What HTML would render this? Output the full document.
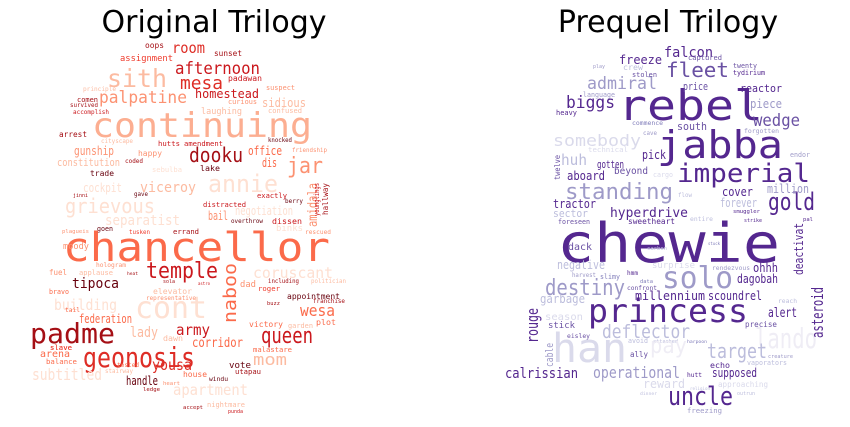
<!DOCTYPE html>
<html><head><meta charset="utf-8"><style>
html,body{margin:0;padding:0;background:#fff;}
svg{display:block;}
text{font-family:"DejaVu Sans Mono","Liberation Mono",monospace;}
.title{font-family:"DejaVu Sans","Liberation Sans",sans-serif;}
</style></head><body>
<svg id="c" width="850" height="427" viewBox="0 0 850 427" xmlns="http://www.w3.org/2000/svg">
<text class="title" x="214" y="32" font-size="30" text-anchor="middle" fill="#000">Original Trilogy</text>
<text class="title" x="668" y="32" font-size="30" text-anchor="middle" fill="#000">Prequel Trilogy</text>
<g id="left"></g>
<g id="right"></g>
</svg>
<script>
// [word, x1, x2, baseline, color, size(optional)]
const leftWords = [
["continuing",92,312,137,"#fcae91",34],["chancellor",63,330,261,"#fb6a4a",40],
["sith",107,167,87,"#fcbba1",25],["afternoon",175,260,74,"#cb181d",17],["mesa",180,223,89,"#de2d26",18],
["palpatine",99,187,103,"#fc9272",17],["homestead",195,259,98,"#cb181d",12],["room",172,205,53,"#de2d26",15],
["assignment",120,173,61,"#ef3b2c"],["sunset",214,242,56,"#a50f15"],["oops",145,164,48,"#a50f15"],["padawan",228,262,81,"#cb181d"],
["suspect",266,295,90,"#fc9272"],["sidious",262,306,107,"#fcbba1",12],["curious",228,257,104,"#fc9272"],["laughing",201,242,114,"#fcbba1"],
["confused",268,302,113,"#fcbba1"],["dooku",189,243,162,"#a50f15",20],["office",248,282,155,"#fb6a4a",12],["jar",287,323,173,"#fc9272",22],
["annie",208,278,192,"#fee0d2",24],["viceroy",140,196,192,"#fcbba1",14],["grievous",65,155,213,"#fee0d2",20],["separatist",105,180,225,"#fee0d2",14],
["cockpit",83,122,192,"#fee0d2",12],["gunship",74,114,155,"#fc9272",12],["constitution",57,120,166,"#fcbba1",11],["arrest",59,87,137,"#a50f15"],
["happy",138,162,156,"#fc9272"],["hutts",158,180,146,"#cb181d"],["amendment",184,223,146,"#cb181d"],["lake",200,220,171,"#67000d"],
["trade",90,114,176,"#67000d"],["dis",262,277,167,"#fb6a4a",12],["exactly",257,287,198,"#cb181d"],["distracted",203,246,207,"#cb181d"],
["negotiation",235,293,215,"#fee0d2",12],["bail",208,228,220,"#fc9272",12],["dissen",272,302,224,"#cb181d"],["overthrow",231,263,223,"#67000d"],
["principle",83,116,91,"#fcbba1"],["comen",77,98,102,"#a50f15"],["survived",70,98,107,"#a50f15"],["accomplish",73,109,114,"#cb181d"],
["cityscape",101,133,143,"#fcbba1"],["knocked",268,292,142,"#67000d"],["friendship",292,327,152,"#fc9272"],["sebulba",152,182,172,"#fee0d2"],
["coded",125,143,163,"#a50f15"],["gave",134,148,196,"#67000d"],["jinni",73,88,197,"#a50f15"],["berry",285,303,203,"#67000d"],
["temple",146,218,278,"#cb181d",22],["cont",135,207,318,"#fee0d2",30],["coruscant",253,333,278,"#fee0d2",15],["tipoca",72,119,288,"#67000d",14],
["fuel",49,67,275,"#fc9272"],["applause",79,113,275,"#fcbba1"],["hologram",96,126,267,"#fc9272"],["plagueis",62,89,233,"#fc9272"],["goen",97,113,231,"#67000d"],
["tusken",129,150,234,"#ef3b2c"],["errand",173,199,234,"#a50f15"],["binks",276,303,231,"#fee0d2"],["rescued",305,331,234,"#fc9272"],
["building",54,117,310,"#fee0d2",15],["federation",79,132,323,"#fb6a4a",12],["padme",30,115,343,"#a50f15",28],["geonosis",83,195,367,"#de2d26",28],
["army",176,210,335,"#cb181d",15],["lady",130,158,337,"#fcbba1",14],["dawn",163,183,341,"#fcbba1"],["corridor",192,243,347,"#fb6a4a",13],
["queen",261,313,343,"#cb181d",22],["wesa",300,335,316,"#fb6a4a",16],["plot",316,336,325,"#fb6a4a"],["victory",249,283,327,"#fb6a4a"],["garden",288,313,328,"#fcbba1"],
["appointment",287,340,299,"#67000d"],["franchise",313,345,303,"#a50f15"],["dad",240,256,287,"#fc9272"],["roger",258,280,291,"#ef3b2c"],["buzz",267,280,305,"#a50f15"],
["elevator",153,192,294,"#fcbba1"],["representative",146,196,300,"#fc9272"],["astro",198,210,285,"#cb181d"],["including",268,299,283,"#a50f15"],["politician",311,346,283,"#fcbba1"],
["mom",253,287,365,"#fcbba1",16],["malastare",253,292,352,"#fb6a4a"],["yousa",152,192,370,"#de2d26",15],["subtitled",32,102,380,"#fee0d2",16],
["balance",46,77,364,"#fb6a4a"],["slave",50,72,350,"#ef3b2c"],["tested",117,139,367,"#fb6a4a"],["stairway",105,133,373,"#fcbba1"],
["vote",229,251,368,"#67000d"],["utapau",235,261,374,"#a50f15"],["house",183,207,377,"#fb6a4a"],["windu",209,228,381,"#67000d"],
["handle",126,158,385,"#67000d",12],["heart",163,180,385,"#fc9272"],["ledge",143,160,391,"#a50f15"],["apartment",173,248,395,"#fee0d2",15],
["nightmare",207,245,407,"#fcbba1"],["accept",183,203,409,"#a50f15"],["punda",228,243,413,"#cb181d"],["heat",127,138,275,"#a50f15"],["sola",163,175,283,"#a50f15"],
["moody",63,89,249,"#fc9272"],["bravo",49,69,294,"#fb6a4a"],["tail",65,80,312,"#fb6a4a"],["arena",40,70,357,"#fb6a4a"],["slave",50,72,350,"#ef3b2c"]
];
// vertical words: [word, xRightBaseline, yTop, yBottom, color, size]
const leftVert = [["naboo",236,263,323,"#fb6a4a",18],["amidala",317,183,227,"#fc9272",13],["hallway",328,183,215,"#a50f15",8],["younglings",319,183,216,"#cb181d",7]];

const rightWords = [
["chewie",557,780,262,"#54278f",54],["rebel",618,763,120,"#54278f",42],["jabba",657,783,158,"#54278f",38],["imperial",677,810,182,"#54278f",26],
["standing",565,673,199,"#9e9ac8",22],["fleet",666,729,77,"#6a51a3",20],["falcon",664,713,57,"#54278f",14],["freeze",619,662,64,"#54278f",12],
["admiral",587,657,89,"#9e9ac8",17],["biggs",566,615,108,"#54278f",17],["somebody",553,641,146,"#dadaeb",16],["huh",561,587,165,"#bcbddc",15],
["gotten",597,624,168,"#54278f",11],["pick",642,666,159,"#54278f",12],["beyond",614,648,174,"#6a51a3"],["aboard",567,605,180,"#54278f",12],
["tractor",553,596,208,"#54278f",12],["sector",553,588,217,"#bcbddc",11],["foreseen",558,590,224,"#6a51a3"],["hyperdrive",610,688,217,"#54278f",13],
["sweetheart",628,675,224,"#54278f"],["entire",690,713,221,"#bcbddc"],["cover",722,753,196,"#54278f",12],["forever",720,757,207,"#bcbddc",12],
["gold",768,815,210,"#54278f",24],["million",767,809,193,"#9e9ac8",12],["wedge",753,800,126,"#6a51a3",17],["piece",750,782,108,"#9e9ac8",12],
["reactor",740,782,92,"#54278f",11],["price",683,708,90,"#6a51a3",11],["south",677,707,130,"#6a51a3",11],["crew",623,643,70,"#bcbddc"],
["stolen",632,657,77,"#6a51a3"],["captured",688,722,60,"#6a51a3"],["twenty",733,757,68,"#6a51a3"],["tydirium",733,765,75,"#54278f"],
["heavy",556,577,115,"#54278f"],["language",583,615,97,"#9e9ac8"],["play",593,605,68,"#9e9ac8"],["commence",632,663,125,"#807dba"],
["cave",643,657,135,"#9e9ac8"],["forgotten",744,779,133,"#9e9ac8"],["endor",790,810,157,"#9e9ac8"],["cargo",653,673,177,"#dadaeb"],
["flow",678,692,197,"#bcbddc"],["technical",588,628,152,"#dadaeb"],["smuggler",733,760,213,"#54278f"],["strike",744,762,222,"#54278f"],["pal",803,813,221,"#54278f"],
["solo",662,733,288,"#9e9ac8",30],["princess",588,748,322,"#54278f",32],["han",552,627,362,"#dadaeb",40],["lando",755,817,348,"#efedf5",28],
["destiny",545,625,295,"#9e9ac8",22],["deflector",602,690,338,"#bcbddc",19],["target",707,767,358,"#bcbddc",20],["operational",593,680,378,"#9e9ac8",16],
["calrissian",505,578,378,"#54278f",14],["uncle",668,733,405,"#54278f",26],["echo",710,730,368,"#54278f"],["supposed",712,757,377,"#54278f",12],
["hutt",687,702,377,"#54278f"],["alert",768,797,317,"#54278f",13],["precise",745,777,327,"#6a51a3"],["reach",778,797,303,"#bcbddc"],
["dagobah",737,778,283,"#54278f",12],["ohhh",753,778,272,"#54278f",12],["scoundrel",708,762,300,"#54278f",12],["millennium",635,705,300,"#54278f",12],
["hmm",627,638,275,"#54278f"],["confront",627,657,290,"#6a51a3"],["data",640,653,283,"#807dba"],["surprise",652,695,268,"#dadaeb"],
["negative",557,605,269,"#bcbddc",12],["dack",568,592,250,"#6a51a3"],["garbage",540,585,303,"#bcbddc",12],["season",545,583,320,"#dadaeb"],
["stick",548,575,328,"#6a51a3"],["eisley",567,590,338,"#6a51a3"],["ally",630,648,357,"#6a51a3"],["avoid",628,648,343,"#bcbddc"],["attached",653,678,343,"#bcbddc"],
["harpoon",687,707,343,"#807dba"],["freezing",687,722,413,"#9e9ac8"],["reward",643,685,388,"#dadaeb",12],["approaching",718,768,387,"#dadaeb"],
["vaporators",747,787,365,"#bcbddc"],["creature",768,793,358,"#9e9ac8"],["pay",650,687,353,"#efedf5",22],["harvest",572,596,277,"#9e9ac8"],
["slimy",600,620,279,"#807dba"],["rendezvous",712,750,270,"#9e9ac8"],["stuck",708,720,245,"#807dba"],["carbon",647,667,250,"#bcbddc"],
["religion",690,710,390,"#bcbddc"],["dinner",640,657,395,"#bcbddc"],["outrun",737,755,395,"#bcbddc"]
];
const rightVert = [["asteroid",823,287,338,"#54278f",16],["rouge",538,308,343,"#54278f",16],["cable",553,343,367,"#9e9ac8",11],["deactivat",803,223,275,"#54278f",12],["twelve",560,155,180,"#6a51a3",8]];

const NS = "http://www.w3.org/2000/svg";
function addWord(g, w) {
  const len = w[0].length, width = w[2] - w[1];
  const size = w[5] || Math.min(10, width / len / 0.6);
  const t = document.createElementNS(NS, "text");
  t.setAttribute("x", w[1]);
  t.setAttribute("y", w[3]);
  t.setAttribute("font-size", size);
  t.setAttribute("fill", w[4]);
  t.setAttribute("textLength", width);
  t.setAttribute("lengthAdjust", "spacingAndGlyphs");
  t.textContent = w[0];
  
  
  g.appendChild(t);
}
function addVert(g, w) {
  const t = document.createElementNS(NS, "text");
  t.setAttribute("transform", "translate(" + w[1] + "," + w[3] + ") rotate(-90)");
  t.setAttribute("font-size", w[5]);
  t.setAttribute("fill", w[4]);
  t.setAttribute("textLength", w[3] - w[2]);
  t.setAttribute("lengthAdjust", "spacingAndGlyphs");
  t.textContent = w[0];
  
  
  g.appendChild(t);
}
const gl = document.getElementById("left"), gr = document.getElementById("right");
leftWords.forEach(w => addWord(gl, w));
leftVert.forEach(w => addVert(gl, w));
rightWords.forEach(w => addWord(gr, w));
rightVert.forEach(w => addVert(gr, w));
</script>
</body></html>
